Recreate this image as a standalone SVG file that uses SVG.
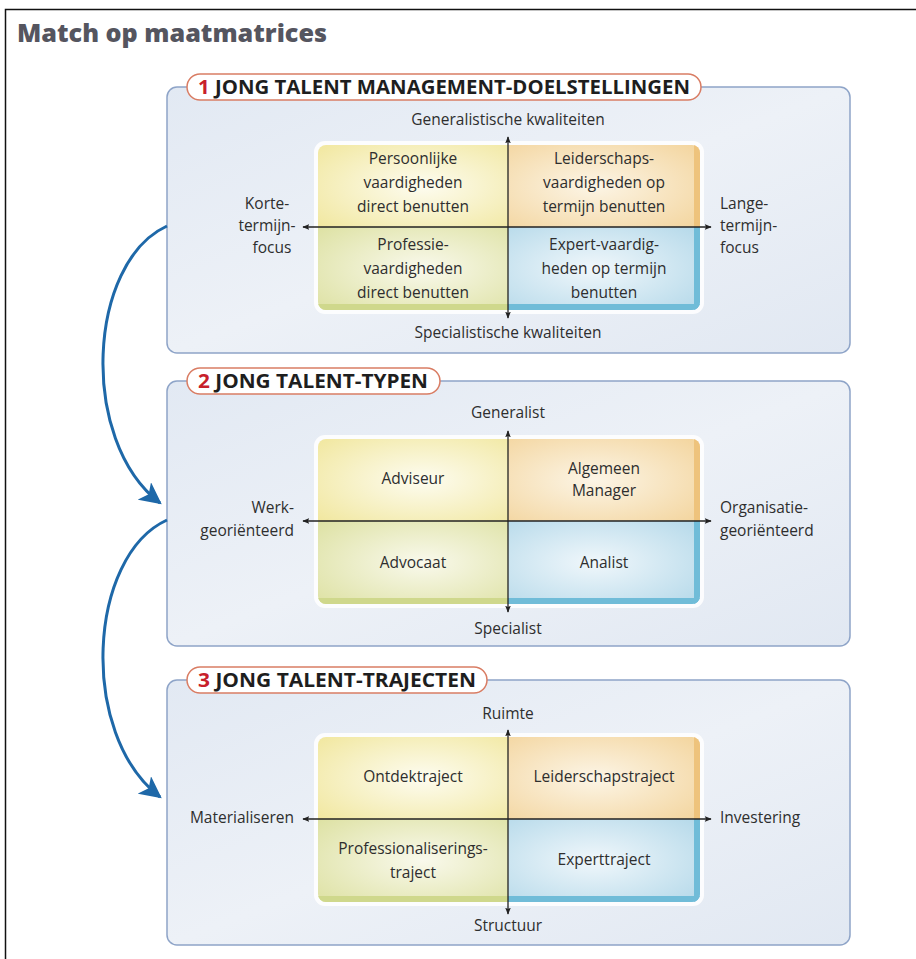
<svg xmlns="http://www.w3.org/2000/svg" width="916" height="959" viewBox="0 0 916 959">
<defs>
<style>
.t{font-family:"Open Sans","Liberation Sans",sans-serif;font-size:15.5px;fill:#2e2e2e;}
.c{text-anchor:middle;}
.r{text-anchor:end;}
.h{font-family:"Open Sans","Liberation Sans",sans-serif;font-weight:bold;font-size:19px;fill:#1e1e1e;}
.n{fill:#c8202a;}
.panel{fill:url(#gPanel);stroke:#8ea4c8;stroke-width:1.5;}
.pill{fill:#fff;stroke:#d97d64;stroke-width:1.5;}
.axis{stroke:#222;stroke-width:1.3;fill:none;marker-start:url(#ax);marker-end:url(#ax);}
.flow{stroke:#1e68a8;stroke-width:3;fill:none;marker-end:url(#bh);}
</style>
<linearGradient id="gPanel" x1="0" y1="0" x2="1" y2="1">
<stop offset="0" stop-color="#e2e9f3"/><stop offset="0.5" stop-color="#edf1f7"/><stop offset="1" stop-color="#e1e8f2"/>
</linearGradient>
<radialGradient id="gTL" cx="0.55" cy="0.5" r="0.75"><stop offset="0" stop-color="#fdfcf0"/><stop offset="1" stop-color="#f1e79e"/></radialGradient>
<radialGradient id="gTR" cx="0.45" cy="0.5" r="0.75"><stop offset="0" stop-color="#fcf5e6"/><stop offset="1" stop-color="#f3d49c"/></radialGradient>
<radialGradient id="gBL" cx="0.55" cy="0.5" r="0.75"><stop offset="0" stop-color="#f9f9ec"/><stop offset="1" stop-color="#dde1a2"/></radialGradient>
<radialGradient id="gBR" cx="0.45" cy="0.5" r="0.75"><stop offset="0" stop-color="#f0f7fb"/><stop offset="1" stop-color="#b3d8e9"/></radialGradient>
<clipPath id="qclip"><rect x="0" y="0" width="382" height="165" rx="8"/></clipPath>
<g id="quad">
<rect x="-4" y="-4" width="390" height="173" rx="11" fill="#fff" opacity="0.85"/>
<g clip-path="url(#qclip)">
<rect x="0" y="0" width="190" height="82" fill="url(#gTL)"/>
<rect x="190" y="0" width="192" height="82" fill="url(#gTR)"/>
<rect x="0" y="82" width="190" height="83" fill="url(#gBL)"/>
<rect x="190" y="82" width="192" height="83" fill="url(#gBR)"/>
<rect x="376" y="0" width="6" height="82" fill="#eec37c"/>
<rect x="376" y="82" width="6" height="83" fill="#70bcd8"/>
<rect x="0" y="159" width="190" height="6" fill="#cfd88c"/>
<rect x="190" y="159" width="192" height="6" fill="#70bcd8"/>
</g>
</g>
<marker id="ax" viewBox="0 0 10 10" refX="9" refY="5" markerWidth="7" markerHeight="7" orient="auto-start-reverse" markerUnits="userSpaceOnUse"><path d="M0,1 L10,5 L0,9 L2,5 Z" fill="#222"/></marker>
<marker id="bh" viewBox="0 0 10 10" refX="9" refY="5" markerWidth="22" markerHeight="22" orient="auto" markerUnits="userSpaceOnUse"><path d="M0,0 L10,5 L0,10 L2.5,5 Z" fill="#1e68a8"/></marker>
</defs>
<rect x="0" y="0" width="916" height="959" fill="#fff"/>
<rect x="5.5" y="9.5" width="930" height="960" fill="none" stroke="#111" stroke-width="1.5"/>
<text x="17" y="42" font-family="'Open Sans','Liberation Sans',sans-serif" font-weight="800" font-size="25" fill="#55555f" textLength="310" lengthAdjust="spacingAndGlyphs">Match op maatmatrices</text>

<g id="panel1">
<rect class="panel" x="167" y="87" width="683" height="266" rx="10"/>
<rect class="pill" x="187" y="74" width="514" height="26" rx="13"/>
<text class="h" x="198" y="94" textLength="492" lengthAdjust="spacingAndGlyphs"><tspan class="n">1</tspan> JONG TALENT MANAGEMENT-DOELSTELLINGEN</text>
<use href="#quad" x="318" y="145"/>
<text class="t c" x="508" y="125">Generalistische kwaliteiten</text>
<text class="t c" x="508" y="338">Specialistische kwaliteiten</text>
<text class="t c" x="267" y="209">Korte-</text>
<text class="t c" x="267" y="231">termijn-</text>
<text class="t c" x="272" y="253">focus</text>
<text class="t" x="720" y="209">Lange-</text>
<text class="t" x="720" y="231">termijn-</text>
<text class="t" x="720" y="253">focus</text>
</g>
<g id="q1tl"><text class="t c" x="413" y="164">Persoonlijke</text><text class="t c" x="413" y="188">vaardigheden</text><text class="t c" x="413" y="212">direct benutten</text></g>
<g id="q1tr"><text class="t c" x="604" y="164">Leiderschaps-</text><text class="t c" x="604" y="188">vaardigheden op</text><text class="t c" x="604" y="212">termijn benutten</text></g>
<g id="q1bl"><text class="t c" x="413" y="250">Professie-</text><text class="t c" x="413" y="274">vaardigheden</text><text class="t c" x="413" y="298">direct benutten</text></g>
<g id="q1br"><text class="t c" x="604" y="250">Expert-vaardig-</text><text class="t c" x="604" y="274">heden op termijn</text><text class="t c" x="604" y="298">benutten</text></g>

<g id="panel2">
<rect class="panel" x="167" y="381" width="683" height="265" rx="10"/>
<rect class="pill" x="187" y="368" width="253" height="26" rx="13"/>
<text class="h" x="198" y="388" textLength="230" lengthAdjust="spacingAndGlyphs"><tspan class="n">2</tspan> JONG TALENT-TYPEN</text>
<use href="#quad" x="318" y="439"/>
<text class="t c" x="508" y="418">Generalist</text>
<text class="t c" x="508" y="634">Specialist</text>
<text class="t r" x="294" y="513">Werk-</text>
<text class="t r" x="294" y="536">georiënteerd</text>
<text class="t" x="720" y="513">Organisatie-</text>
<text class="t" x="720" y="536">georiënteerd</text>
</g>
<g id="q2tl"><text class="t c" x="413" y="484">Adviseur</text></g>
<g id="q2tr"><text class="t c" x="604" y="474">Algemeen</text><text class="t c" x="604" y="496">Manager</text></g>
<g id="q2bl"><text class="t c" x="413" y="568">Advocaat</text></g>
<g id="q2br"><text class="t c" x="604" y="568">Analist</text></g>

<g id="panel3">
<rect class="panel" x="167" y="680" width="683" height="265" rx="10"/>
<rect class="pill" x="187" y="667" width="300" height="26" rx="13"/>
<text class="h" x="198" y="687" textLength="278" lengthAdjust="spacingAndGlyphs"><tspan class="n">3</tspan> JONG TALENT-TRAJECTEN</text>
<use href="#quad" x="318" y="737"/>
<text class="t c" x="508" y="719">Ruimte</text>
<text class="t c" x="508" y="931">Structuur</text>
<text class="t r" x="294" y="823">Materialiseren</text>
<text class="t" x="720" y="823">Investering</text>
</g>
<g id="q3tl"><text class="t c" x="413" y="782">Ontdektraject</text></g>
<g id="q3tr"><text class="t c" x="604" y="782">Leiderschapstraject</text></g>
<g id="q3bl"><text class="t c" x="413" y="854">Professionaliserings-</text><text class="t c" x="413" y="878">traject</text></g>
<g id="q3br"><text class="t c" x="604" y="865">Experttraject</text></g>

<g id="connectors">
<line class="axis" x1="508" y1="137" x2="508" y2="318"/>
<line class="axis" x1="303" y1="227" x2="711" y2="227"/>
<line class="axis" x1="508" y1="431" x2="508" y2="612"/>
<line class="axis" x1="303" y1="521" x2="711" y2="521"/>
<line class="axis" x1="508" y1="730" x2="508" y2="914"/>
<line class="axis" x1="303" y1="819" x2="711" y2="819"/>
<path class="flow" d="M167,226 C88,262 78,440 160,503"/>
<path class="flow" d="M167,520 C88,556 78,734 160,797"/>
</g>
</svg>
